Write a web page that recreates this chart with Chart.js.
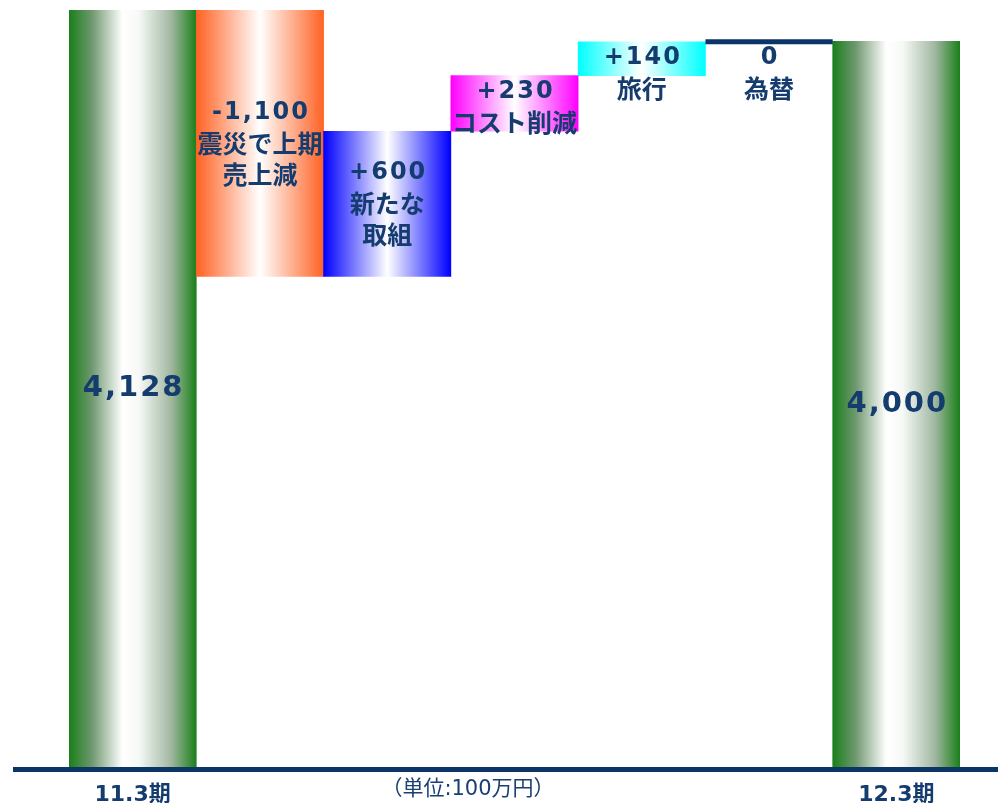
<!DOCTYPE html>
<html>
<head>
<meta charset="utf-8">
<script src="https://cdn.jsdelivr.net/npm/chart.js@4/dist/chart.umd.min.js"></script>
<style>
  html, body { margin: 0; padding: 0; background: #ffffff; }
  canvas { display: block; }
</style>
</head>
<body>
<canvas id="bridge" width="998" height="803"></canvas>
<script>
// Profit bridge: 11.3期 → 12.3期 (unit: 100万円)
const categories = ['11.3期', '震災', '新たな取組', 'コスト削減', '旅行', '為替', '12.3期'];
const tickLabels = ['11.3期', '', '', '', '', '', '12.3期'];
const startValue = 4128;
const stepValues = [-1100, 600, 230, 140, 0];
const endValue = 4000;
const stepNotes = [['震災で上期', '売上減'], ['新たな', '取組'], ['コスト削減'], ['旅行'], ['為替']];
const edgeColors = ['#1a7f1a', '#ff6224', '#0000ff', '#ff00ff', '#00ffff', '#ffffff', '#1a7f1a'];
const unitText = '（単位:100万円）';

const NAVY = '#143c6e';
const FONT = '"DejaVu Sans", "Noto Sans CJK JP", sans-serif';
const CJK = '"Noto Sans CJK JP", sans-serif';

// floating ranges for each bar, built from the running total
const ranges = [[0, startValue]];
let running = startValue;
stepValues.forEach(v => {
  const next = running + v;
  ranges.push([Math.min(running, next), Math.max(running, next)]);
  running = next;
});
ranges.push([0, endValue]);

const fmt = v => v.toLocaleString('en-US');
const signed = v => (v > 0 ? '+' : '') + fmt(v);
const labelLines = [[fmt(startValue)]]
  .concat(stepValues.map((v, i) => [signed(v)].concat(stepNotes[i])))
  .concat([[fmt(endValue)]]);

function barFill(ctx) {
  const chart = ctx.chart;
  const i = ctx.dataIndex;
  const edge = edgeColors[i];
  if (!chart.chartArea || !chart.scales.x) return edge;
  const xs = chart.scales.x;
  const half = xs.width / categories.length / 2;
  const cx = xs.getPixelForValue(i);
  const g = chart.ctx.createLinearGradient(cx - half, 0, cx + half, 0);
  if (i === 0 || i === categories.length - 1) {
    g.addColorStop(0, edge);
    g.addColorStop(0.18, '#6f986f');
    g.addColorStop(0.42, '#ffffff');
    g.addColorStop(0.55, '#f6f9f6');
    g.addColorStop(0.8, '#a2b8a2');
    g.addColorStop(1, edge);
  } else {
    g.addColorStop(0, edge);
    g.addColorStop(0.5, '#ffffff');
    g.addColorStop(1, edge);
  }
  return g;
}

const bridgeDecor = {
  id: 'bridgeDecor',
  afterDatasetsDraw(chart) {
    const c = chart.ctx;
    const area = chart.chartArea;
    const meta = chart.getDatasetMeta(0);
    c.save();

    // base line
    c.strokeStyle = '#0b3566';
    c.lineWidth = 5;
    c.beginPath();
    c.moveTo(13, area.bottom + 2.5);
    c.lineTo(chart.width, area.bottom + 2.5);
    c.stroke();

    // flat step drawn as a line at its level
    stepValues.forEach((v, k) => {
      if (v !== 0) return;
      const el = meta.data[k + 1];
      c.strokeStyle = '#0b3566';
      c.lineWidth = 5;
      c.beginPath();
      c.moveTo(el.x - el.width / 2, el.y);
      c.lineTo(el.x + el.width / 2, el.y);
      c.stroke();
    });

    // labels inside the bars
    c.fillStyle = NAVY;
    c.textAlign = 'center';
    c.textBaseline = 'middle';
    meta.data.forEach((el, i) => {
      const lines = labelLines[i];
      const top = Math.max(Math.min(el.y, el.base), area.top);
      const bottom = Math.min(Math.max(el.y, el.base), area.bottom);
      const big = i === 0 || i === meta.data.length - 1;
      const gap = 31;
      const block = lines.length * gap;
      let y0;
      if (bottom - top >= block + 8) {
        y0 = (top + bottom) / 2 - (lines.length - 1) * gap / 2;
      } else {
        y0 = top + 16;
      }
      lines.forEach((t, j) => {
        if (j === 0) {
          c.font = 'bold ' + (big ? 29 : 24) + 'px ' + FONT;
          c.letterSpacing = '2px';
          c.fillText(t, el.x + 1, y0 + j * gap);
        } else {
          c.font = 'bold 25px ' + CJK;
          c.letterSpacing = '0px';
          c.fillText(t, el.x, y0 + j * gap);
        }
      });
    });

    // unit note
    c.letterSpacing = '0px';
    c.font = '21px ' + FONT;
    c.fillStyle = '#1a3f70';
    c.fillText(unitText, 468, 790);
    c.restore();
  }
};

new Chart(document.getElementById('bridge'), {
  type: 'bar',
  data: {
    labels: tickLabels,
    datasets: [{
      data: ranges,
      backgroundColor: barFill,
      borderWidth: 0,
      barPercentage: 1,
      categoryPercentage: 1
    }]
  },
  options: {
    responsive: false,
    animation: false,
    layout: { padding: { left: 69, right: 38, top: 5, bottom: 0 } },
    plugins: { legend: { display: false }, tooltip: { enabled: false } },
    scales: {
      y: { display: false, min: 1000, max: 4150 },
      x: {
        grid: { display: false },
        border: { display: false },
        ticks: {
          color: NAVY,
          padding: 7,
          font: { family: FONT, size: 22, weight: 'bold' }
        },
        afterFit(scale) { scale.height = 36; }
      }
    }
  },
  plugins: [bridgeDecor]
});
</script>
</body>
</html>
